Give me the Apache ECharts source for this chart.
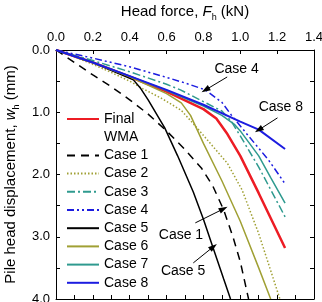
<!DOCTYPE html>
<html>
<head>
<meta charset="utf-8">
<script src="https://cdn.jsdelivr.net/npm/echarts@6/dist/echarts.min.js"></script>
<style>
html, body { margin: 0; padding: 0; background: #fff; }
#chart { width: 322px; height: 302px; }
</style>
</head>
<body>
<div id="chart"></div>
<script>
// tick labels
const xTickLabels = ['0.0', '0.2', '0.4', '0.6', '0.8', '1.0', '1.2', '1.4'];
const yTickLabels = ['0.0', '1.0', '2.0', '3.0', '4.0'];

// head force F (kN) / head displacement w (mm)
const finalF = [0, 0.2, 0.4, 0.6, 0.8, 0.87, 0.93, 1.0, 1.1, 1.243];
const finalW = [0, 0.2, 0.43, 0.67, 0.95, 1.1, 1.35, 1.7, 2.3, 3.18];
const case1F = [0, 0.1, 0.2, 0.3, 0.4, 0.5, 0.6, 0.7, 0.79, 0.85, 0.91, 0.96, 1.0, 1.045];
const case1W = [0, 0.2, 0.4, 0.59, 0.8, 1.03, 1.3, 1.6, 1.9, 2.18, 2.57, 3.0, 3.4, 4.0];
const case2F = [0, 0.1, 0.2, 0.3, 0.4, 0.47, 0.575, 0.68, 0.75, 0.82, 0.93, 1.01, 1.1, 1.215];
const case2W = [0, 0.11, 0.23, 0.36, 0.5, 0.62, 0.78, 0.97, 1.2, 1.44, 1.82, 2.25, 2.95, 4.0];
const case3F = [0, 0.2, 0.4, 0.6, 0.675, 0.82, 0.9, 0.95, 1.0, 1.1, 1.243];
const case3W = [0, 0.17, 0.35, 0.55, 0.64, 0.86, 0.98, 1.14, 1.38, 1.88, 2.68];
const case4F = [0, 0.2, 0.4, 0.6, 0.7, 0.81, 0.9, 0.95, 1.05, 1.154, 1.243];
const case4W = [0, 0.13, 0.27, 0.44, 0.53, 0.64, 0.84, 1.04, 1.4, 1.77, 2.15];
const case5F = [0, 0.2, 0.42, 0.46, 0.5, 0.59, 0.66, 0.745, 0.8, 0.855, 0.91, 0.947];
const case5W = [0, 0.2, 0.48, 0.62, 0.8, 1.25, 1.7, 2.28, 2.72, 3.2, 3.68, 4.0];
const case6F = [0, 0.2, 0.4, 0.6, 0.68, 0.73, 0.8, 0.9, 1.0, 1.1, 1.165];
const case6W = [0, 0.2, 0.43, 0.7, 0.85, 1.05, 1.5, 2.1, 2.75, 3.5, 4.0];
const case7F = [0, 0.2, 0.4, 0.6, 0.8, 0.9, 0.97, 1.0, 1.1, 1.165, 1.243];
const case7W = [0, 0.2, 0.42, 0.65, 0.9, 1.05, 1.2, 1.3, 1.7, 2.05, 2.46];
const case8F = [0, 0.2, 0.4, 0.6, 0.8, 1.0, 1.1, 1.243];
const case8W = [0, 0.2, 0.42, 0.64, 0.88, 1.15, 1.28, 1.59];

const names = ['Final WMA', 'Case 1', 'Case 2', 'Case 3', 'Case 4', 'Case 5', 'Case 6', 'Case 7', 'Case 8'];
const forces = [finalF, case1F, case2F, case3F, case4F, case5F, case6F, case7F, case8F];
const disps = [finalW, case1W, case2W, case3W, case4W, case5W, case6W, case7W, case8W];

const font = 'Liberation Sans, Arial, sans-serif';
const olive = '#a0a034';
const teal = '#2f9a8f';
const blue = '#1c1ce0';

const styles = [
    { color: '#ed1c24', width: 2.5, type: 'solid' },
    { color: '#000', width: 1.5, type: [8, 6] },
    { color: olive, width: 1.5, type: [1.5, 2] },
    { color: teal, width: 1.5, type: [8, 3, 2, 3] },
    { color: blue, width: 1.5, type: [7, 3, 2, 3, 2, 3] },
    { color: '#000', width: 1.5, type: 'solid' },
    { color: olive, width: 1.5, type: 'solid' },
    { color: teal, width: 1.5, type: 'solid' },
    { color: blue, width: 2, type: 'solid' }
];

// annotation arrows, in data units [F, w]
const notes = {
    'Case 4': { text: [0.98, 0.305], from: [0.929, 0.433], to: [0.811, 0.642] },
    'Case 8': { text: [1.22, 0.923], from: [1.202, 1.09], to: [1.10, 1.284] },
    'Case 1': { text: [0.678, 2.97], from: [0.756, 2.777], to: [0.909, 2.552] },
    'Case 5': { text: [0.69, 3.55], from: [0.745, 3.42], to: [0.854, 3.16] }
};

const nameRich = {
    i: { fontStyle: 'italic', fontSize: 15, fontFamily: font, color: '#000' },
    s: { fontSize: 9, fontFamily: font, color: '#000', verticalAlign: 'bottom' }
};

const series = names.map((n, i) => {
    const s = {
        name: n,
        type: 'line',
        symbol: 'none',
        showSymbol: false,
        animation: false,
        data: forces[i].map((f, j) => [f, disps[i][j]]),
        lineStyle: styles[i],
        itemStyle: { color: styles[i].color },
        z: 3
    };
    const note = notes[n];
    if (note) {
        s.markLine = {
            silent: true,
            animation: false,
            symbol: ['none', 'triangle'],
            symbolSize: [6, 9],
            label: { show: false },
            lineStyle: { color: '#000', width: 1, type: 'solid' },
            itemStyle: { color: '#000' },
            data: [[{ coord: note.from }, { coord: note.to }]]
        };
        s.markPoint = {
            silent: true,
            animation: false,
            symbol: 'circle',
            symbolSize: 0,
            itemStyle: { color: 'rgba(0,0,0,0)' },
            label: { show: true, position: 'inside', formatter: n, color: '#000', fontSize: 14, fontFamily: font },
            data: [{ coord: note.text }]
        };
    }
    return s;
});
// second legend row for "Final WMA"
series.push({ name: 'WMA', type: 'line', data: [], symbol: 'none', itemStyle: { color: '#ed1c24' } });

const axisLine = { show: true, onZero: false, lineStyle: { color: '#000', width: 1 } };
const tick = { show: true, inside: true, length: 4, lineStyle: { color: '#000', width: 1 } };

const myChart = echarts.init(document.getElementById('chart'));
const option = {
    backgroundColor: '#fff',
    animation: false,
    grid: { left: 56, right: 8, top: 50, bottom: 3, containLabel: false, outerBoundsMode: 'none' },
    legend: {
        orient: 'vertical',
        left: 66,
        top: 112,
        padding: 0,
        itemWidth: 32,
        itemHeight: 14,
        itemGap: 4.2,
        selectedMode: false,
        itemStyle: { opacity: 0 },
        data: [{ name: 'Final WMA' }, { name: 'WMA', icon: 'none' }, 'Case 1', 'Case 2', 'Case 3', 'Case 4', 'Case 5', 'Case 6', 'Case 7', 'Case 8'],
        formatter: n => (n === 'Final WMA' ? 'Final' : n),
        textStyle: { fontSize: 14, color: '#000', fontFamily: font }
    },
    xAxis: [
        {
            type: 'value',
            position: 'top',
            min: 0,
            max: 1.4,
            interval: 0.2,
            name: 'Head force, {i|F}{s|h} (kN)',
            nameLocation: 'middle',
            nameGap: 28,
            nameTextStyle: { fontSize: 15, color: '#000', fontFamily: font, lineHeight: 20, rich: nameRich },
            axisLine: axisLine,
            axisTick: tick,
            axisLabel: {
                margin: 6,
                fontSize: 13,
                color: '#000',
                fontFamily: font,
                showMinLabel: true,
                showMaxLabel: true,
                formatter: v => xTickLabels[Math.round(v / 0.2)]
            },
            splitLine: { show: false }
        },
        {
            type: 'value',
            position: 'bottom',
            min: 0,
            max: 1.4,
            interval: 0.1,
            axisLine: axisLine,
            axisTick: tick,
            axisLabel: { show: false },
            splitLine: { show: false }
        }
    ],
    yAxis: [
        {
            type: 'value',
            position: 'left',
            inverse: true,
            min: 0,
            max: 4,
            interval: 0.5,
            name: 'Pile head displacement, {i|w}{s|h} (mm)',
            nameLocation: 'middle',
            nameRotate: 90,
            nameGap: 35,
            nameTextStyle: { fontSize: 15, color: '#000', fontFamily: font, lineHeight: 20, rich: nameRich },
            axisLine: axisLine,
            axisTick: tick,
            axisLabel: {
                margin: 6,
                fontSize: 13,
                color: '#000',
                fontFamily: font,
                showMinLabel: true,
                showMaxLabel: true,
                formatter: v => (Math.abs(v - Math.round(v)) < 1e-6 ? yTickLabels[Math.round(v)] : '')
            },
            splitLine: { show: false }
        },
        {
            type: 'value',
            position: 'right',
            inverse: true,
            min: 0,
            max: 4,
            interval: 0.5,
            axisLine: axisLine,
            axisTick: tick,
            axisLabel: { show: false },
            splitLine: { show: false }
        }
    ],
    series: series
};

myChart.setOption(option);
window.addEventListener('resize', myChart.resize);
</script>
</body>
</html>
